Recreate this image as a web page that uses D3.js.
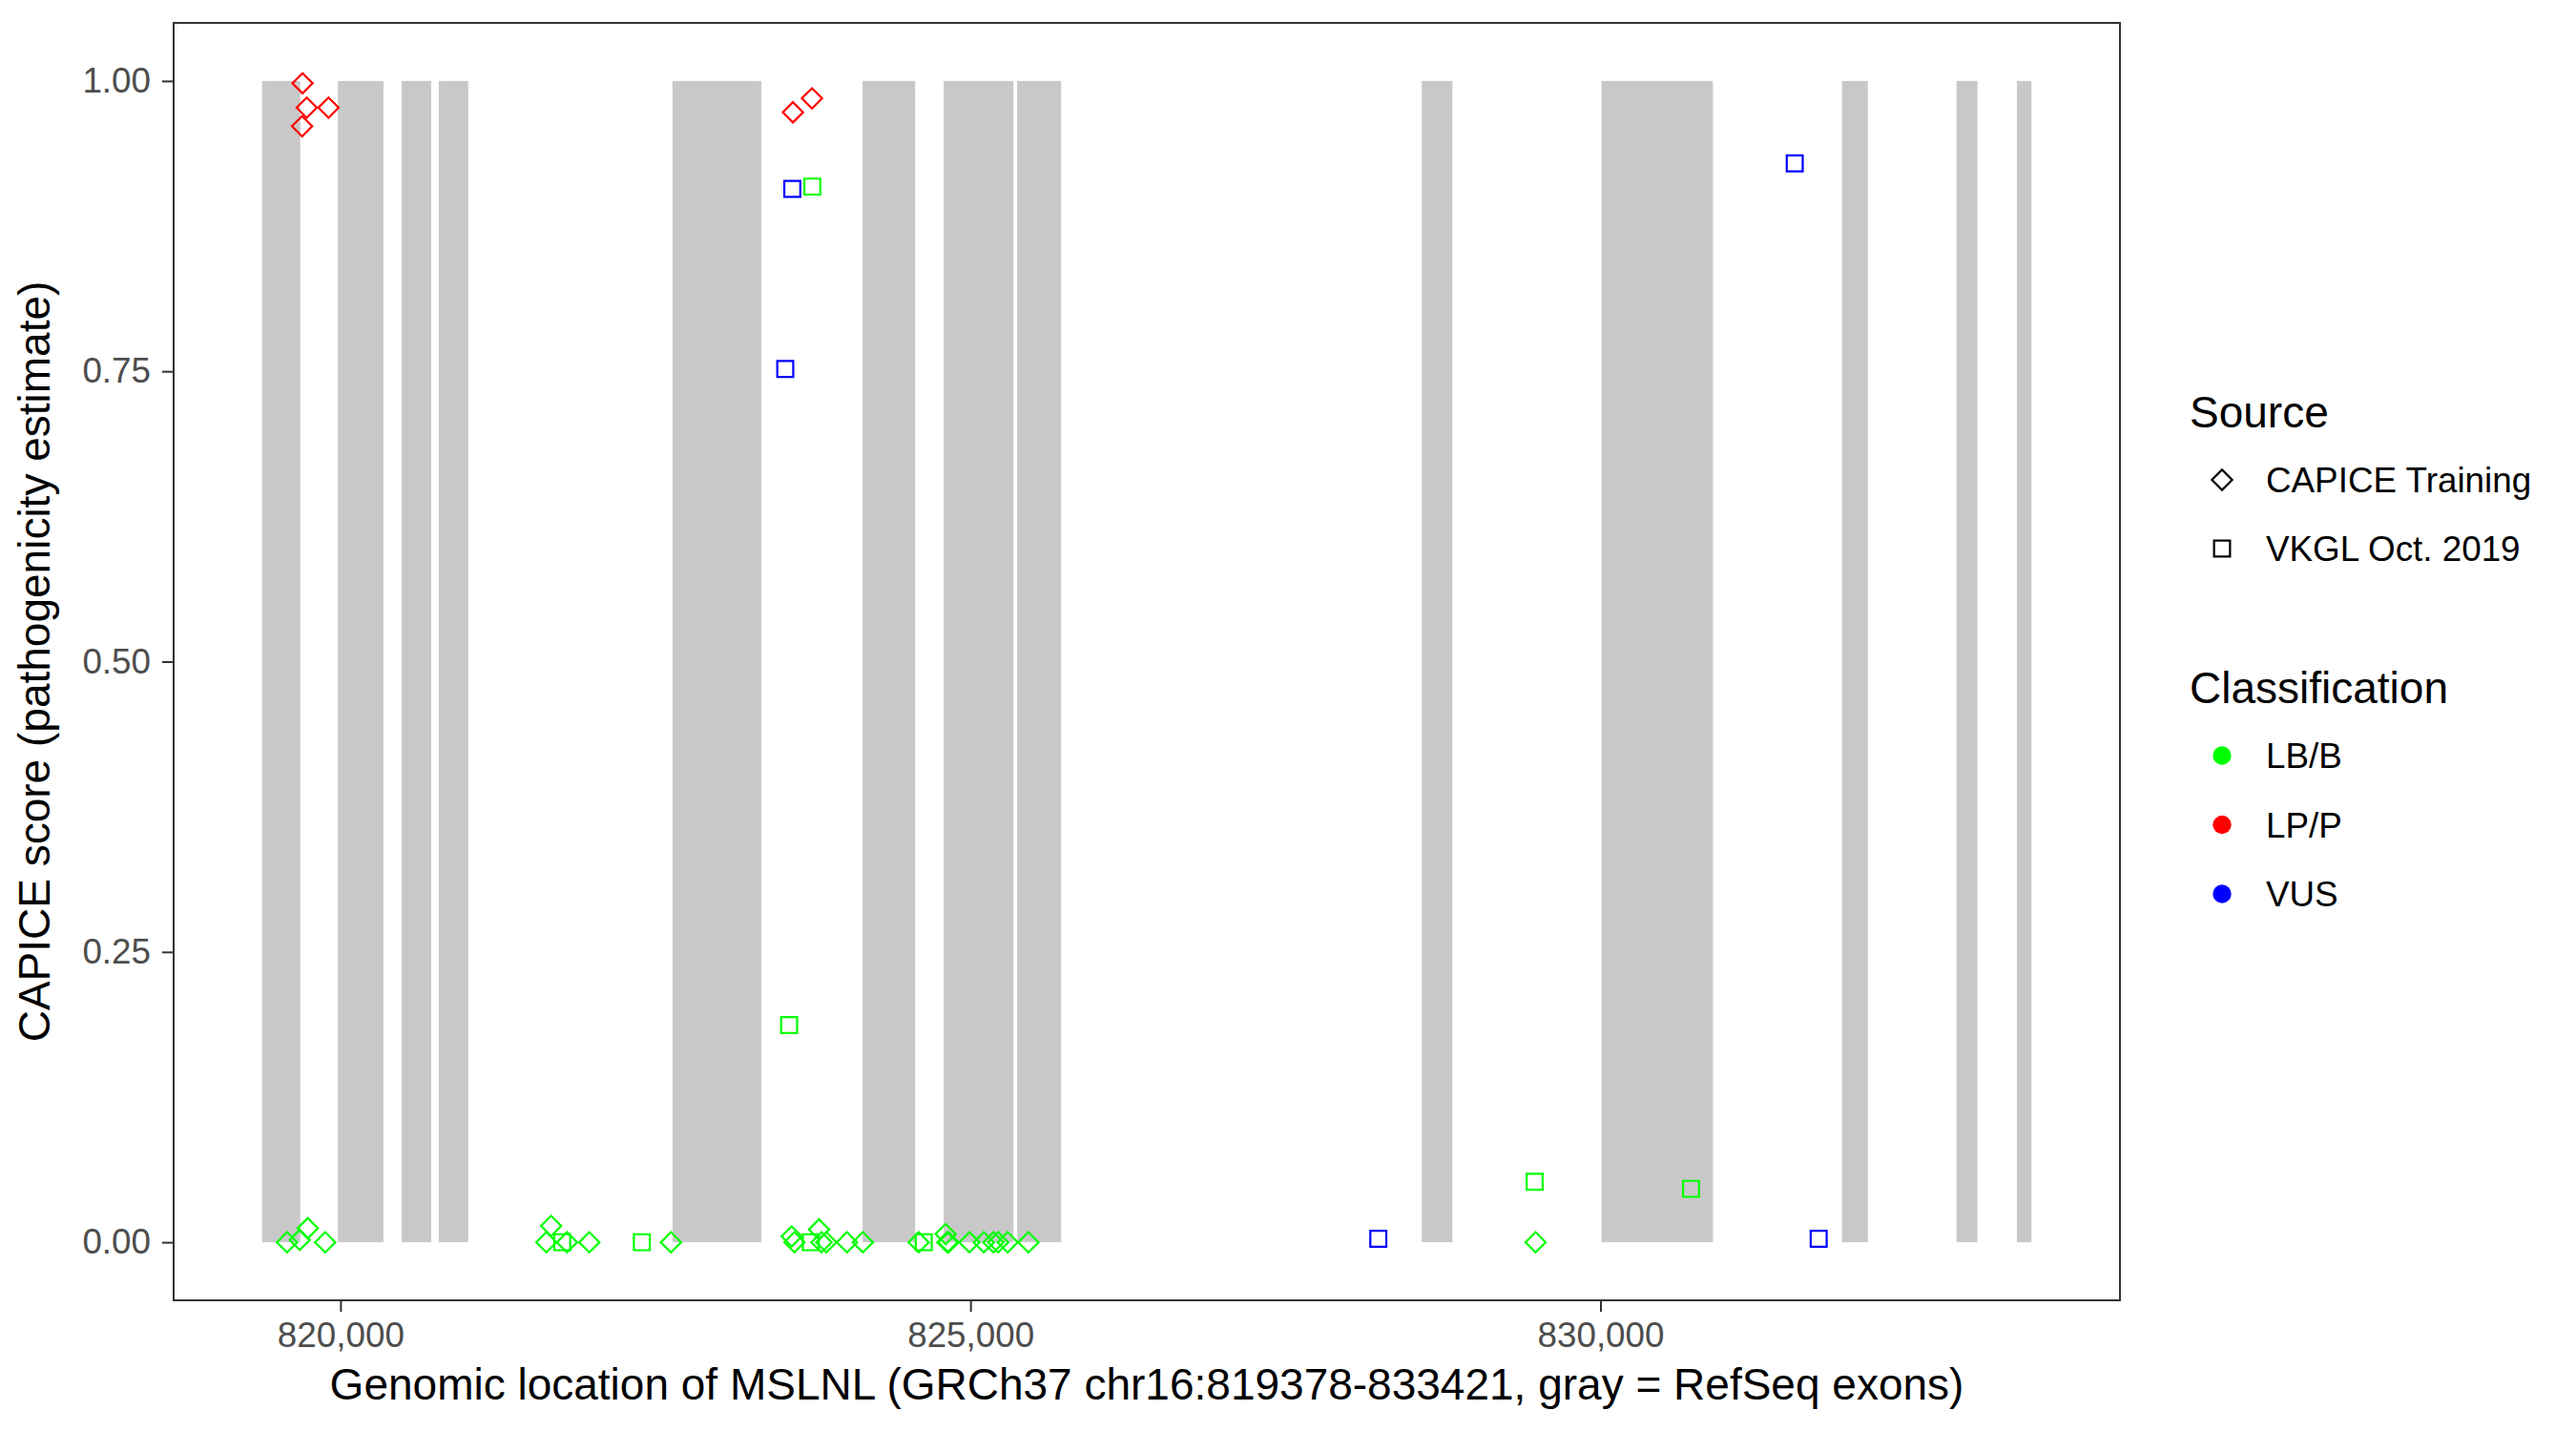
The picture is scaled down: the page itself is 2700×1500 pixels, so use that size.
<!DOCTYPE html>
<meta charset="utf-8">
<style>
body { margin: 0; background: #fff; }
text { font-family: "Liberation Sans", Arial, Helvetica, sans-serif; }
.axis text { fill: #4d4d4d; font-size: 36.8px; }
.axis line { stroke: #333; stroke-width: 2; }
.axis path { display: none; }
</style>
<svg width="2700" height="1500"></svg>
<script src="https://d3js.org/d3.v7.min.js"></script>
<script>

// RefSeq exons of MSLNL (GRCh37 chr16)
var exonStart = [819378, 819979, 820486, 820780, 822635, 824144, 824788, 825371, 828582, 830008, 831917, 832826, 833305];
var exonEnd   = [819681, 820341, 820720, 821014, 823340, 824561, 825341, 825720, 828825, 830893, 832122, 832992, 833421];

// variants: position, CAPICE score, source, classification
var varPos = [
  819699, 819732, 819905, 819695, 823591, 823742,
  819576, 819677, 819740, 819879, 821634, 821672, 821798, 821975, 822623,
  823581, 823603, 823798, 823818, 823856, 824020, 824146,
  824589, 824803, 824816, 824826, 824992, 825106, 825182, 825220, 825295, 825460,
  829485,
  821760, 822392, 823733, 824629, 823561, 823745, 829478, 830719,
  823586, 823530, 828237, 831542, 831732
];
var varScore = [
  0.998, 0.977, 0.977, 0.961, 0.973, 0.985,
  0, 0.002, 0.012, 0, 0, 0.014, 0, 0, 0,
  0.005, 0, 0.011, 0, 0, 0, 0,
  0, 0.007, 0, 0, 0, 0, 0, 0, 0, 0,
  0,
  0, 0, 0, 0, 0.187, 0.909, 0.052, 0.046,
  0.907, 0.752, 0.003, 0.929, 0.003
];
var varSource = [
  "CAPICE Training", "CAPICE Training", "CAPICE Training", "CAPICE Training", "CAPICE Training", "CAPICE Training",
  "CAPICE Training", "CAPICE Training", "CAPICE Training", "CAPICE Training", "CAPICE Training", "CAPICE Training", "CAPICE Training", "CAPICE Training", "CAPICE Training",
  "CAPICE Training", "CAPICE Training", "CAPICE Training", "CAPICE Training", "CAPICE Training", "CAPICE Training", "CAPICE Training",
  "CAPICE Training", "CAPICE Training", "CAPICE Training", "CAPICE Training", "CAPICE Training", "CAPICE Training", "CAPICE Training", "CAPICE Training", "CAPICE Training", "CAPICE Training",
  "CAPICE Training",
  "VKGL Oct. 2019", "VKGL Oct. 2019", "VKGL Oct. 2019", "VKGL Oct. 2019", "VKGL Oct. 2019", "VKGL Oct. 2019", "VKGL Oct. 2019", "VKGL Oct. 2019",
  "VKGL Oct. 2019", "VKGL Oct. 2019", "VKGL Oct. 2019", "VKGL Oct. 2019", "VKGL Oct. 2019"
];
var varClass = [
  "LP/P", "LP/P", "LP/P", "LP/P", "LP/P", "LP/P",
  "LB/B", "LB/B", "LB/B", "LB/B", "LB/B", "LB/B", "LB/B", "LB/B", "LB/B",
  "LB/B", "LB/B", "LB/B", "LB/B", "LB/B", "LB/B", "LB/B",
  "LB/B", "LB/B", "LB/B", "LB/B", "LB/B", "LB/B", "LB/B", "LB/B", "LB/B", "LB/B",
  "LB/B",
  "LB/B", "LB/B", "LB/B", "LB/B", "LB/B", "LB/B", "LB/B", "LB/B",
  "VUS", "VUS", "VUS", "VUS", "VUS"
];

var sources = ["CAPICE Training", "VKGL Oct. 2019"];
var classes = ["LB/B", "LP/P", "VUS"];
var classColors = ["#00ff00", "#ff0000", "#0000ff"];
var xTicks = [820000, 825000, 830000];
var yTicks = [0, 0.25, 0.5, 0.75, 1];

var svg = d3.select("svg");
var panel = {left: 182, top: 24, right: 2222, bottom: 1363};

// ggplot style 5% expansion
var geneMin = d3.min(exonStart), geneMax = d3.max(exonEnd);
var padX = (geneMax - geneMin) * 0.05;
var x = d3.scaleLinear().domain([geneMin - padX, geneMax + padX]).range([panel.left, panel.right]);
var y = d3.scaleLinear().domain([-0.05, 1.05]).range([panel.bottom, panel.top]);
var color = d3.scaleOrdinal().domain(classes).range(classColors);

// exons
svg.append("g").selectAll("rect")
  .data(exonStart.map(function(s, i) { return {s: s, e: exonEnd[i]}; }))
  .enter().append("rect")
  .attr("x", function(d) { return x(d.s); })
  .attr("width", function(d) { return x(d.e) - x(d.s); })
  .attr("y", y(1))
  .attr("height", y(0) - y(1))
  .attr("fill", "#c8c8c8");

var diamond = d3.symbol().type(d3.symbolSquare).size(225)();
var square = d3.symbol().type(d3.symbolSquare).size(280)();

function shapeFor(src) { return src == "CAPICE Training" ? diamond : square; }
function rotFor(src) { return src == "CAPICE Training" ? " rotate(45)" : ""; }

var pts = varPos.map(function(p, i) {
  return {pos: p, score: varScore[i], source: varSource[i], cls: varClass[i]};
});

svg.append("g").selectAll("path")
  .data(pts)
  .enter().append("path")
  .attr("d", function(d) { return shapeFor(d.source); })
  .attr("transform", function(d) { return "translate(" + x(d.pos) + "," + y(d.score) + ")" + rotFor(d.source); })
  .attr("fill", "none")
  .attr("stroke", function(d) { return color(d.cls); })
  .attr("stroke-width", 2.2);

// axes
svg.append("g").attr("class", "axis")
  .attr("transform", "translate(0," + panel.bottom + ")")
  .call(d3.axisBottom(x).tickValues(xTicks).tickFormat(d3.format(",")).tickSize(12).tickPadding(11));

svg.append("g").attr("class", "axis")
  .attr("transform", "translate(" + panel.left + ",0)")
  .call(d3.axisLeft(y).tickValues(yTicks).tickFormat(d3.format(".2f")).tickSize(12).tickPadding(12));

// panel border
svg.append("rect")
  .attr("x", panel.left).attr("y", panel.top)
  .attr("width", panel.right - panel.left).attr("height", panel.bottom - panel.top)
  .attr("fill", "none").attr("stroke", "#333").attr("stroke-width", 2);

// axis titles
svg.append("text")
  .attr("x", (panel.left + panel.right) / 2).attr("y", 1467)
  .attr("text-anchor", "middle").style("font-size", "46px")
  .text("Genomic location of MSLNL (GRCh37 chr16:819378-833421, gray = RefSeq exons)");

svg.append("text")
  .attr("transform", "translate(52," + (panel.top + panel.bottom) / 2 + ") rotate(-90)")
  .attr("text-anchor", "middle").style("font-size", "46px")
  .text("CAPICE score (pathogenicity estimate)");

// legends
var leg = svg.append("g").attr("transform", "translate(2295,0)");
leg.append("text").attr("x", 0).attr("y", 448).style("font-size", "46px").text("Source");
sources.forEach(function(s, i) {
  var cy = 503 + i * 72;
  leg.append("path")
    .attr("d", shapeFor(s))
    .attr("transform", "translate(34," + cy + ")" + rotFor(s))
    .attr("fill", "none").attr("stroke", "#000").attr("stroke-width", 2.2);
  leg.append("text").attr("x", 80).attr("y", cy).attr("dy", "0.36em")
    .style("font-size", "36.8px").text(s);
});

leg.append("text").attr("x", 0).attr("y", 737).style("font-size", "46px").text("Classification");
classes.forEach(function(c, i) {
  var cy = 792 + i * 72.5;
  leg.append("circle").attr("cx", 34).attr("cy", cy).attr("r", 9.7).attr("fill", color(c));
  leg.append("text").attr("x", 80).attr("y", cy).attr("dy", "0.36em")
    .style("font-size", "36.8px").text(c);
});

</script>
